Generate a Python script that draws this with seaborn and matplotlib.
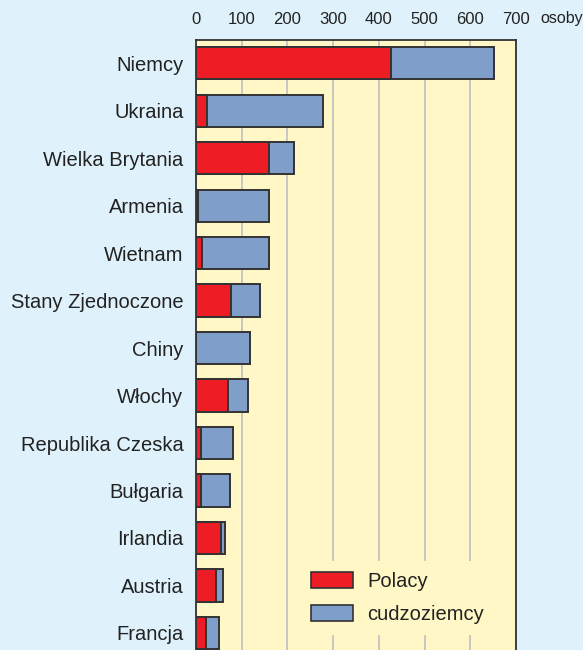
import seaborn as sns
import matplotlib.pyplot as plt
import pandas as pd
from matplotlib.patches import Patch

# countries and values (osoby)
countries = ['Niemcy', 'Ukraina', 'Wielka Brytania', 'Armenia', 'Wietnam',
             'Stany Zjednoczone', 'Chiny', 'Włochy', 'Republika Czeska',
             'Bułgaria', 'Irlandia', 'Austria', 'Francja']
polacy = [427, 23, 160, 4, 14, 76, 0, 69, 11, 12, 55, 44, 21]
cudzoziemcy = [224, 254, 55, 155, 145, 63, 118, 45, 69, 62, 8, 16, 29]
ticks = [0, 100, 200, 300, 400, 500, 600, 700]

df = pd.DataFrame({'kraj': countries, 'Polacy': polacy, 'cudzoziemcy': cudzoziemcy})
df['razem'] = df['Polacy'] + df['cudzoziemcy']

RED = '#ee1c25'
BLUE = '#7f9ec9'
EDGE = '#333333'
TXT = '#222222'
plt.rcParams['font.family'] = ['Liberation Sans', 'DejaVu Sans']

fig = plt.figure(figsize=(5.83, 6.5), dpi=100, facecolor='#dff1fb')
ax = fig.add_axes([196 / 583, 0.0, 320 / 583, 1 - 39.5 / 650])
ax.set_facecolor('#fff8c6')

sns.barplot(ax=ax, data=df, y='kraj', x='razem', orient='h', color=BLUE,
            edgecolor=EDGE, linewidth=1.4, width=0.68, saturation=1, zorder=3)
sns.barplot(ax=ax, data=df, y='kraj', x='Polacy', orient='h', color=RED,
            edgecolor=EDGE, linewidth=1.4, width=0.68, saturation=1, zorder=4)

ax.set_xlim(0, 700)
ax.set_ylim(12.36, -0.5)
ax.set_xticks(ticks)
ax.xaxis.tick_top()
ax.tick_params(axis='x', length=0, pad=9, labelsize=12, colors=TXT)
ax.tick_params(axis='y', length=0, pad=9, labelsize=14.5, colors=TXT)
ax.set_xlabel('')
ax.set_ylabel('')
ax.grid(axis='x', color='#c0c0c0', linewidth=1.2, zorder=1)
ax.set_axisbelow(True)
for s in ['top', 'left', 'right']:
    ax.spines[s].set_color(EDGE)
    ax.spines[s].set_linewidth(1.3)
ax.spines['bottom'].set_visible(False)

fig.text(540 / 583, 1 - 18 / 650, 'osoby', fontsize=11.5, color=TXT,
         ha='left', va='center')

handles = [Patch(facecolor=RED, edgecolor=EDGE, linewidth=1.2, label='Polacy'),
           Patch(facecolor=BLUE, edgecolor=EDGE, linewidth=1.2, label='cudzoziemcy')]
leg = ax.legend(handles=handles, loc='upper left',
                bbox_to_anchor=(300 / 583, 1 - 561 / 650), bbox_transform=fig.transFigure,
                frameon=True, facecolor='#fff8c6', edgecolor='none', framealpha=1,
                fontsize=14.5, handlelength=2.1, handleheight=0.85, labelspacing=0.7,
                handletextpad=0.68, borderpad=0.55, borderaxespad=0)
leg.set_zorder(5)
for t in leg.get_texts():
    t.set_color(TXT)

fig.savefig('out.png', dpi=100, facecolor=fig.get_facecolor())
